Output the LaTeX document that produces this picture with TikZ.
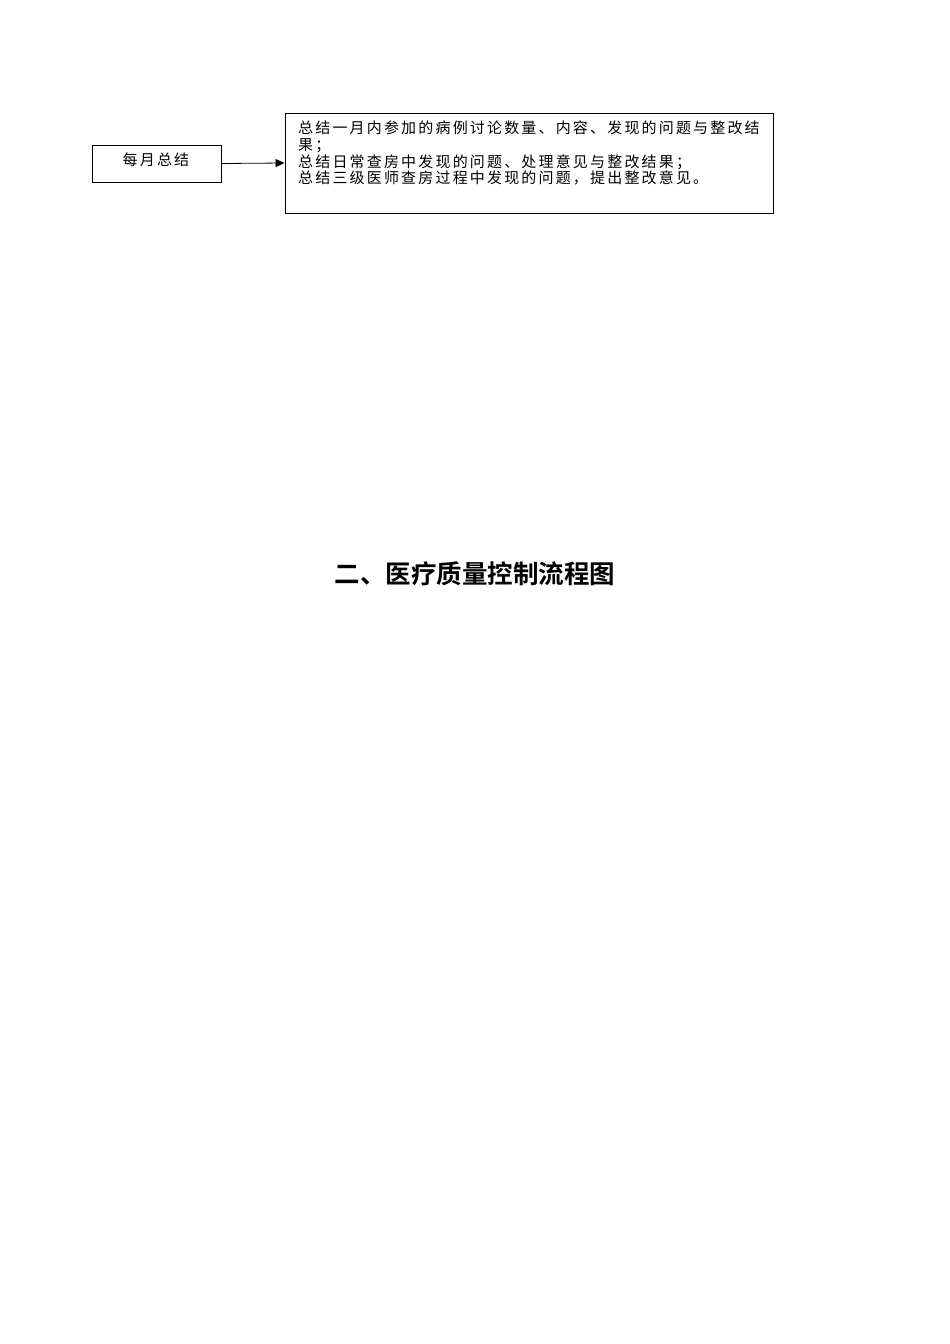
\documentclass[tikz,border=0pt]{standalone}
\usepackage{fontspec}
\newfontfamily\cjk{Noto Sans CJK SC}[LetterSpace=14.5]
\newfontfamily\cjktitle{Noto Sans CJK SC Bold}
\usetikzlibrary{arrows.meta}
\begin{document}
\begin{tikzpicture}[x=1pt,y=-1pt,
  boxstyle/.style={draw=black,line width=0.9pt,rectangle},
  txt/.style={font=\cjk\fontsize{15}{16.8}\selectfont,inner sep=0pt},
  conn/.style={line width=0.8pt,-{Triangle[length=9pt,width=8pt]}}]
\useasboundingbox (0,0) rectangle (950,1344);
\node[boxstyle,minimum width=129pt,minimum height=37pt] (month) at (156.5,163.5) {};
\node[txt] (monthtext) at (156,160) {每月总结};
\node[boxstyle,minimum width=488pt,minimum height=100pt] (sum) at (529,163) {};
\node[txt,anchor=north west,align=left] (sumtext) at (298,120.5) {总结一月内参加的病例讨论数量、内容、发现的问题与整改结\\果；\\总结日常查房中发现的问题、处理意见与整改结果；\\总结三级医师查房过程中发现的问题，提出整改意见。};
\draw[conn] (month.east) -- (sum.west);
\node[font=\cjktitle\fontsize{25.5}{28}\selectfont,inner sep=0pt] (title) at (475,574) {二、医疗质量控制流程图};
\end{tikzpicture}
\end{document}
